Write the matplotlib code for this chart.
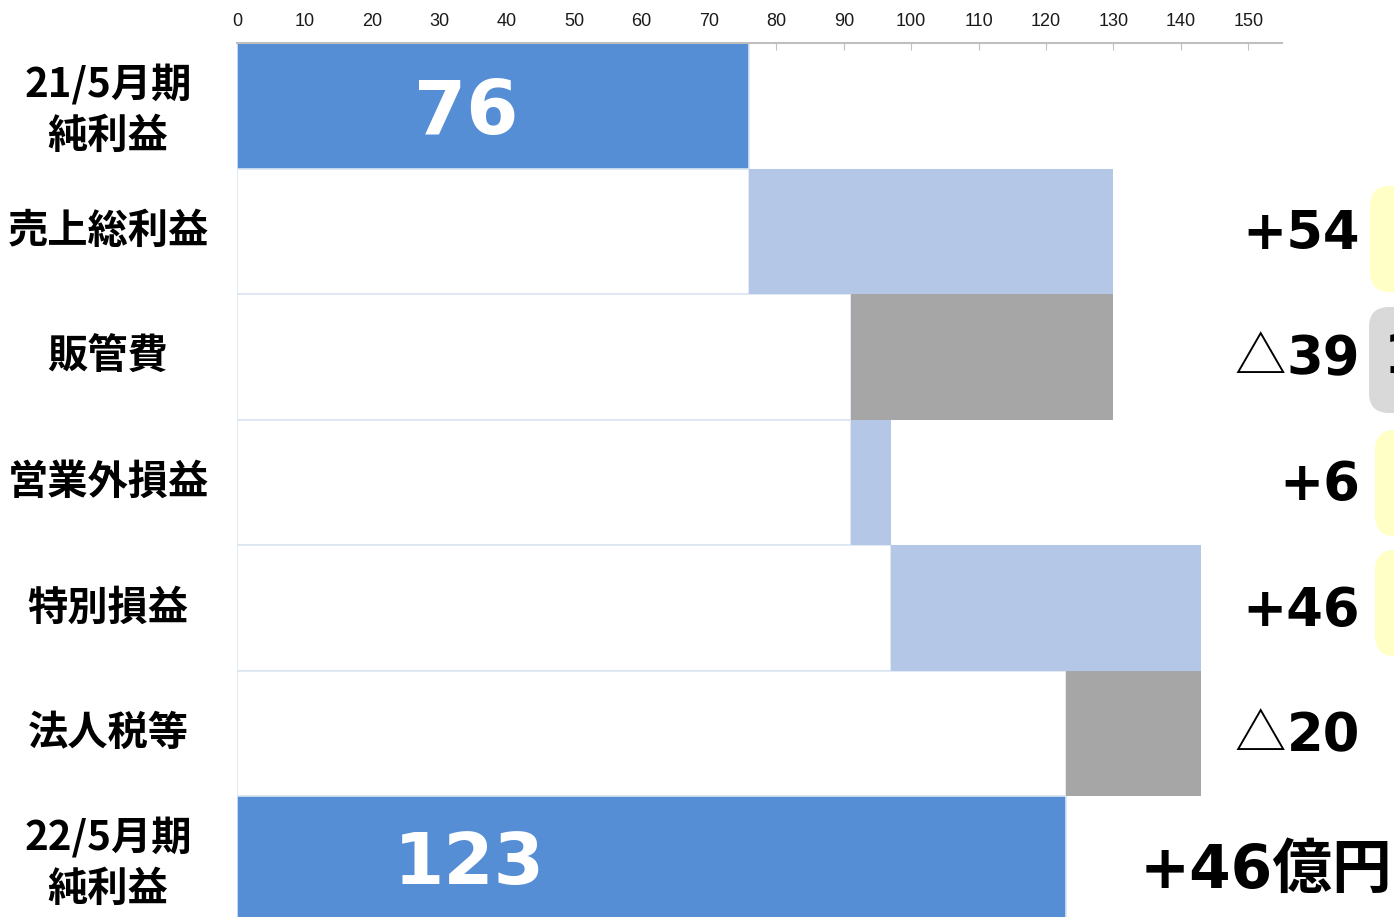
import matplotlib
matplotlib.use("Agg")
import matplotlib.pyplot as plt
from matplotlib.patches import FancyBboxPatch
from matplotlib.transforms import IdentityTransform, blended_transform_factory

# waterfall data (億円)
row_labels = ["21/5月期\n純利益", "売上総利益", "販管費", "営業外損益",
              "特別損益", "法人税等", "22/5月期\n純利益"]
start_val = 76
changes = [54, -39, 6, 46, -20]
end_val = 123
change_labels = ["+54", "△39", "+6", "+46", "△20"]
total_label = "+46億円"
x_ticks = list(range(0, 151, 10))

# colours
c_total = "#558ed5"
c_up = "#b4c7e7"
c_down = "#a6a6a6"
c_edge = "#dce6f2"

W, H = 1394, 917
fig = plt.figure(figsize=(W / 100, H / 100), dpi=100)
ax = fig.add_axes([237 / W, 1 - 922 / H, 1045 / W, 879 / H])

jp = "Noto Sans CJK JP"

# first and last totals
ax.barh(0, start_val, height=1.0, color=c_total, edgecolor=c_edge, linewidth=1.2, zorder=2)
ax.barh(6, end_val, height=1.0, color=c_total, edgecolor=c_edge, linewidth=1.2, zorder=2)

# steps: invisible white base + coloured delta
run = start_val
for i, c in enumerate(changes):
    y = i + 1
    lo = min(run, run + c)
    ax.barh(y, lo, height=1.0, color="white", edgecolor=c_edge, linewidth=1.2, zorder=1)
    ax.barh(y, abs(c), left=lo, height=1.0, color=c_up if c > 0 else c_down,
            linewidth=0, zorder=2)
    run += c

ax.text(34, 0.06, str(start_val), color="white", fontsize=54, fontweight="bold",
        ha="center", va="center", family="DejaVu Sans", zorder=3)
ax.text(34.5, 6.04, str(end_val), color="white", fontsize=52, fontweight="bold",
        ha="center", va="center", family="DejaVu Sans", zorder=3)

ax.set_xlim(0, 155)
ax.set_ylim(6.5, -0.5)
ax.set_yticks([])
ax.xaxis.tick_top()
ax.set_xticks(x_ticks)
ax.set_xticklabels([str(t) for t in x_ticks], fontsize=13, family="Liberation Sans",
                   color="#1a1a1a")
ax.tick_params(axis="x", direction="in", length=5, color="#bfbfbf", pad=9)
for s in ["left", "right", "bottom"]:
    ax.spines[s].set_visible(False)
ax.spines["top"].set_color("#bfbfbf")
ax.spines["top"].set_linewidth(1.5)

# category labels on the left
lab_tr = blended_transform_factory(fig.transFigure, ax.transData)
for i, lab in enumerate(row_labels):
    dy = 0.04 if "\n" in lab else 0.0
    ax.text(108 / W, i + dy, lab, transform=lab_tr, fontsize=29, fontweight="bold",
            family=jp, ha="center", va="center", linespacing=1.3)

# change amounts on the right
for i, lab in enumerate(change_labels):
    y = i + 1.02
    if lab.startswith("△"):
        ax.text(1360 / W, y, lab[1:], transform=lab_tr, fontsize=38, fontweight="bold",
                family="DejaVu Sans", ha="right", va="center")
        ax.text(1286 / W, y, "△", transform=lab_tr, fontsize=37,
                family=jp, ha="right", va="center")
    else:
        ax.text(1360 / W, y, lab, transform=lab_tr, fontsize=38, fontweight="bold",
                family="DejaVu Sans", ha="right", va="center")
ax.text(1392 / W, 6.1, total_label, transform=lab_tr, fontsize=43, fontweight="bold",
        family=["DejaVu Sans", jp], ha="right", va="center")

# comment boxes at the right margin
box_tops = [186, 307, 430, 550]
box_left = [1370, 1369, 1375, 1375]
box_cols = ["#ffffc6", "#d9d9d9", "#ffffc6", "#ffffc6"]
for top, left, col in zip(box_tops, box_left, box_cols):
    p = FancyBboxPatch((left, H - top - 106), 120, 106,
                       boxstyle="round,pad=0,rounding_size=20",
                       facecolor=col, edgecolor="none", transform=IdentityTransform())
    fig.add_artist(p)
fig.text(1384 / W, 1 - 331 / H, "1", fontsize=40, fontweight="bold",
         family="DejaVu Sans", ha="left", va="top")

fig.savefig("out.png", dpi=100)
